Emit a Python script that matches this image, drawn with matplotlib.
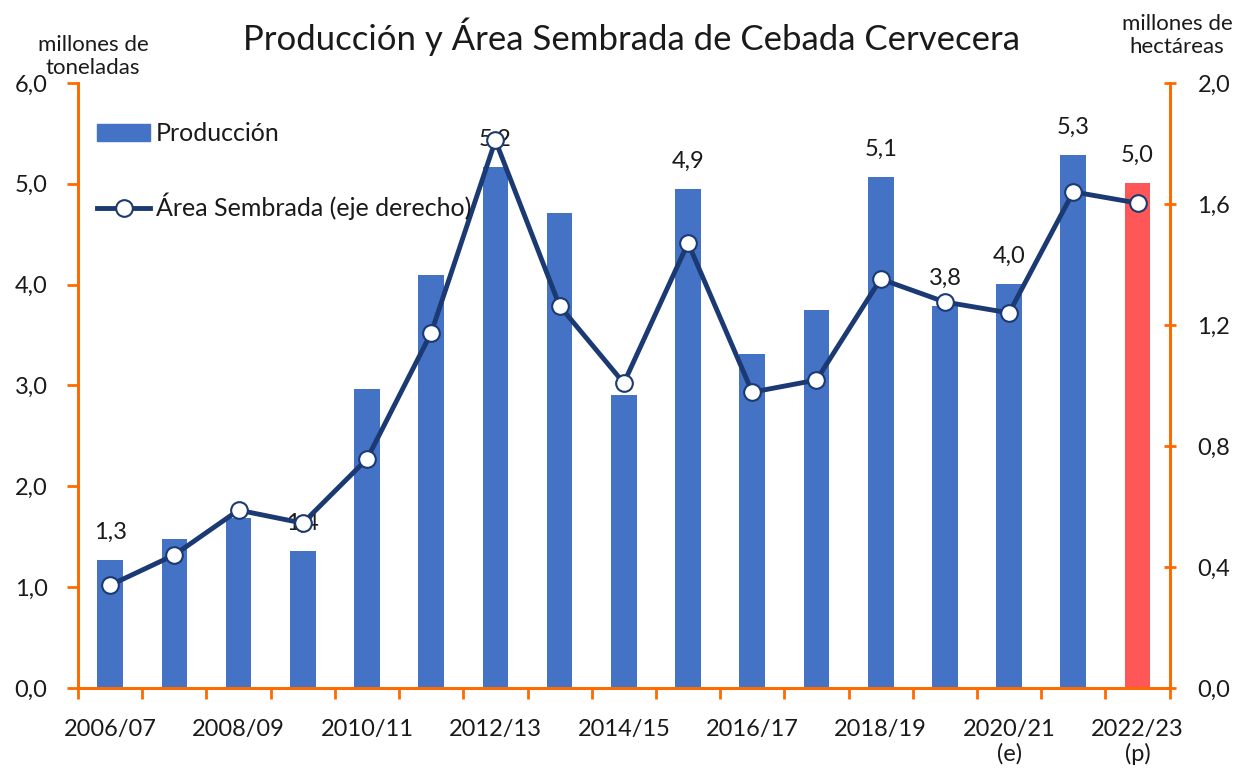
import matplotlib.pyplot as plt
import numpy as np
from matplotlib.lines import Line2D
from matplotlib.patches import Patch

campanas = ['2006/07', '2007/08', '2008/09', '2009/10', '2010/11', '2011/12', '2012/13',
            '2013/14', '2014/15', '2015/16', '2016/17', '2017/18', '2018/19', '2019/20',
            '2020/21\n(e)', '2021/22', '2022/23\n(p)']
produccion = [1.27, 1.48, 1.69, 1.36, 2.97, 4.10, 5.17, 4.71, 2.91, 4.95, 3.31, 3.75,
              5.07, 3.79, 4.01, 5.29, 5.01]
area = [0.34, 0.44, 0.588, 0.545, 0.757, 1.174, 1.81, 1.263, 1.008, 1.471, 0.978, 1.018,
        1.352, 1.276, 1.24, 1.64, 1.603]
etiquetas = {0: '1,3', 3: '1,4', 6: '5,2', 9: '4,9', 12: '5,1', 13: '3,8', 14: '4,0',
             15: '5,3', 16: '5,0'}

plt.rcParams['font.family'] = ['Lato', 'DejaVu Sans']
naranja = '#FF6A00'
azul = '#4472C4'
rojo = '#FF5757'
navy = '#1B3A73'
gris = '#1a1a1a'

fig = plt.figure(figsize=(12.39, 7.79), dpi=100)
ax = fig.add_axes([0.063, 0.1168, 0.881, 0.7767])
ax2 = ax.twinx()

x = np.arange(len(campanas))
colores = [azul] * (len(campanas) - 1) + [rojo]
ax.bar(x, produccion, width=0.4, color=colores, zorder=2)

for i, txt in etiquetas.items():
    ax.annotate(txt, (x[i], produccion[i]), xytext=(0, 12), textcoords='offset points',
                ha='center', va='bottom', fontsize=17, color=gris, zorder=3)

ax2.plot(x, area, color=navy, lw=3.5, marker='o', ms=12, mfc='white', mec=navy,
         mew=1.5, zorder=5)

ax.set_xlim(-0.5, len(campanas) - 0.5)
ax.set_ylim(0, 6)
ax2.set_ylim(0, 2)
ax.set_yticks(np.arange(0, 6.01, 1))
ax.set_yticklabels([f'{v:.1f}'.replace('.', ',') for v in np.arange(0, 6.01, 1)])
ax2.set_yticks(np.arange(0, 2.01, 0.4))
ax2.set_yticklabels([f'{v:.1f}'.replace('.', ',') for v in np.arange(0, 2.01, 0.4)])

ax.set_xticks(np.arange(-0.5, len(campanas), 1))
ax.set_xticklabels([])
ax.set_xticks(x[::2], minor=True)
ax.set_xticklabels([campanas[i] for i in x[::2]], minor=True)
ax.tick_params(axis='x', which='major', length=8, width=2, color=naranja, direction='out')
ax.tick_params(axis='x', which='minor', length=0, labelsize=17, labelcolor=gris, pad=22)
ax.tick_params(axis='y', length=8, width=2, color=naranja, labelsize=17, labelcolor=gris, pad=14)
ax2.tick_params(axis='y', length=8, width=2, color=naranja, direction='inout',
                labelsize=17, labelcolor=gris, pad=16)

for a in (ax, ax2):
    a.spines['top'].set_visible(False)
    for s in ('left', 'right', 'bottom'):
        a.spines[s].set_color(naranja)
        a.spines[s].set_linewidth(2)
ax.set_zorder(ax2.get_zorder() - 1)
ax.patch.set_visible(False)
ax2.patch.set_visible(False)

fig.text(0.51, 0.953, 'Producción y Área Sembrada de Cebada Cervecera', ha='center',
         va='center', fontsize=25, color=gris)
fig.text(0.075, 0.927, 'millones de\ntoneladas', ha='center', va='center', fontsize=16,
         color=gris, linespacing=1.2)
fig.text(0.950, 0.954, 'millones de\nhectáreas', ha='center', va='center', fontsize=16,
         color=gris, linespacing=1.2)

handles = [Patch(color=azul),
           Line2D([], [], color=navy, lw=3.5, marker='o', ms=12, mfc='white', mec=navy, mew=1.5)]
ax2.legend(handles, ['Producción', 'Área Sembrada (eje derecho)'], loc='upper left',
           bbox_to_anchor=(-0.003, 0.972), frameon=False, fontsize=18, labelcolor=gris,
           handlelength=2.1, handletextpad=0.25, labelspacing=1.9)

fig.savefig('out.png', dpi=100)
